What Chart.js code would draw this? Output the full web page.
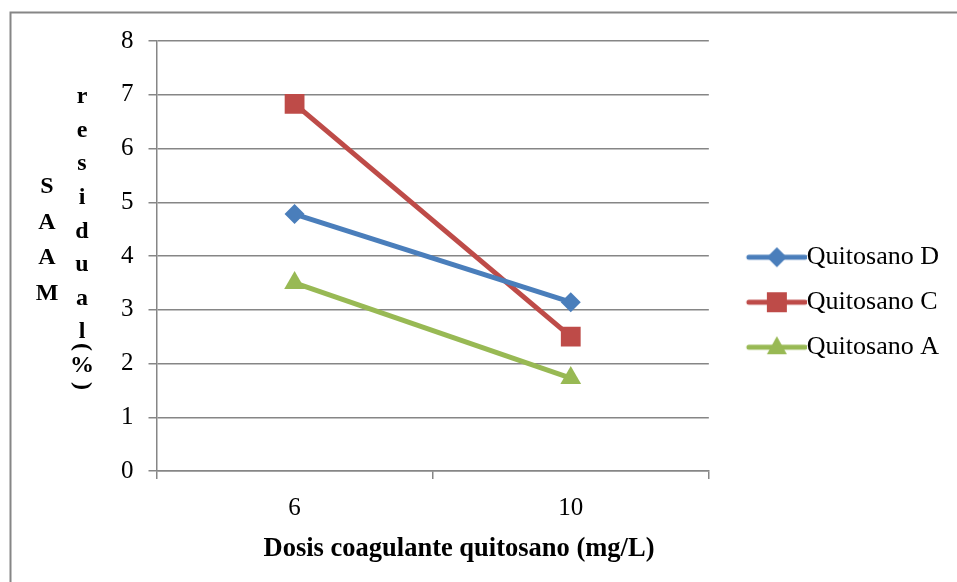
<!DOCTYPE html>
<html>
<head>
<meta charset="utf-8">
<script src="https://cdn.jsdelivr.net/npm/chart.js@4.4.0/dist/chart.umd.min.js"></script>
<style>
  html, body { margin: 0; padding: 0; background: #fff; }
  #wrap { width: 957px; height: 582px; position: relative; }
</style>
</head>
<body>
<div id="wrap"><canvas id="dosis_chart"></canvas></div>
<script>
// dosis de quitosano (mg/L)
var dosis = ["6", "10"];
// SAAM residual (%)
var quitosanoD = [4.78, 3.14];
var quitosanoC = [6.83, 2.5];
var quitosanoA = [3.5, 1.73];
var nombres = ["Quitosano D", "Quitosano C", "Quitosano A"];
var tituloX = "Dosis coagulante quitosano (mg/L)";

var serif = "'Liberation Serif', 'Times New Roman', serif";
var gris = "#868686";
var colores = ["#4A7EBB", "#BE4B48", "#98B954"];
var marcadores = ["rectRot", "rect", "triangle"];
var radios = [10, 14, 12];

// icono de leyenda: linea con marcador en el centro
function iconoLeyenda(color, forma) {
  var c = document.createElement("canvas");
  c.width = 92;
  c.height = 26;
  var ctx = c.getContext("2d");
  var cy = 13;
  ctx.strokeStyle = color;
  ctx.lineWidth = 5;
  ctx.lineCap = "round";
  ctx.beginPath();
  ctx.moveTo(34, cy);
  ctx.lineTo(90, cy);
  ctx.stroke();
  ctx.fillStyle = color;
  ctx.beginPath();
  var mx = 62;
  if (forma === "rectRot") {
    ctx.moveTo(mx, cy - 10);
    ctx.lineTo(mx + 10, cy);
    ctx.lineTo(mx, cy + 10);
    ctx.lineTo(mx - 10, cy);
  } else if (forma === "rect") {
    ctx.rect(mx - 10, cy - 10, 20, 20);
  } else {
    ctx.moveTo(mx, cy - 11);
    ctx.lineTo(mx + 10, cy + 7);
    ctx.lineTo(mx - 10, cy + 7);
  }
  ctx.closePath();
  ctx.fill();
  return c;
}
var iconos = colores.map(function (c, i) {
  return iconoLeyenda(c, marcadores[i]);
});

// marco exterior, titulo del eje x y titulo del eje y con letras apiladas
var marcoPlugin = {
  id: "marco",
  beforeDraw: function (chart) {
    var ctx = chart.ctx;
    ctx.save();
    ctx.fillStyle = "#fff";
    ctx.fillRect(0, 0, chart.width, chart.height);
    ctx.strokeStyle = gris;
    ctx.lineWidth = 2;
    ctx.strokeRect(10.5, 12.5, 2000, 2000);
    ctx.restore();
  },
  afterDraw: function (chart) {
    var ctx = chart.ctx;
    ctx.save();
    ctx.fillStyle = "#000";
    ctx.textAlign = "center";
    ctx.textBaseline = "middle";

    ctx.font = "bold 26.5px " + serif;
    ctx.fillText(tituloX, 459, 549);

    ctx.font = "bold 24px " + serif;
    "SAAM".split("").forEach(function (ch, i) {
      ctx.fillText(ch, 47, 187 + i * 35.5);
    });
    "residual".split("").forEach(function (ch, i) {
      ctx.fillText(ch, 82, 97 + i * 33.6);
    });
    ctx.fillText("%", 82, 366);
    // parentesis girados
    [["(", 347], [")", 386]].forEach(function (p) {
      ctx.save();
      ctx.translate(82, p[1]);
      ctx.rotate(Math.PI / 2);
      ctx.fillText(p[0], 0, 0);
      ctx.restore();
    });
    ctx.restore();
  },
};

var series = [quitosanoD, quitosanoC, quitosanoA].map(function (valores, i) {
  return {
    label: nombres[i],
    data: valores,
    borderColor: colores[i],
    backgroundColor: colores[i],
    borderWidth: 5,
    pointStyle: marcadores[i],
    pointRadius: radios[i],
    pointHoverRadius: radios[i],
    pointBorderWidth: 0,
    pointBackgroundColor: colores[i],
    tension: 0,
  };
});

new Chart("dosis_chart", {
  type: "line",
  data: {
    labels: dosis,
    datasets: series,
  },
  options: {
    responsive: true,
    maintainAspectRatio: false,
    animation: false,
    layout: {
      padding: { left: 106, top: 41, right: 8, bottom: 45 },
    },
    plugins: {
      tooltip: { enabled: false },
      legend: {
        position: "right",
        align: "start",
        maxWidth: 248,
        // titulo vacio para bajar las entradas de la leyenda
        title: {
          display: true,
          text: " ",
          font: { size: 1 },
          padding: { top: 183, bottom: 0 },
        },
        labels: {
          usePointStyle: true,
          pointStyleWidth: 66,
          padding: 19,
          color: "#000",
          font: { family: serif, size: 26 },
          generateLabels: function (chart) {
            return chart.data.datasets.map(function (ds, i) {
              return {
                text: ds.label,
                pointStyle: iconos[i],
                datasetIndex: i,
                lineWidth: 0,
                hidden: false,
                fontColor: "#000",
              };
            });
          },
        },
      },
    },
    scales: {
      x: {
        type: "category",
        offset: true,
        grid: {
          offset: true,
          drawOnChartArea: false,
          drawTicks: true,
          tickLength: 8,
          color: gris,
          lineWidth: 1.5,
        },
        border: { color: gris, width: 1.5 },
        ticks: {
          color: "#000",
          padding: 14,
          font: { family: serif, size: 25 },
          maxRotation: 0,
        },
      },
      y: {
        min: 0,
        max: 8,
        ticks: {
          stepSize: 1,
          color: "#000",
          padding: 15,
          font: { family: serif, size: 25 },
        },
        grid: {
          color: gris,
          lineWidth: 1.5,
          tickLength: 8,
        },
        border: { color: gris, width: 1.5 },
      },
    },
  },
  plugins: [marcoPlugin],
});
</script>
</body>
</html>
